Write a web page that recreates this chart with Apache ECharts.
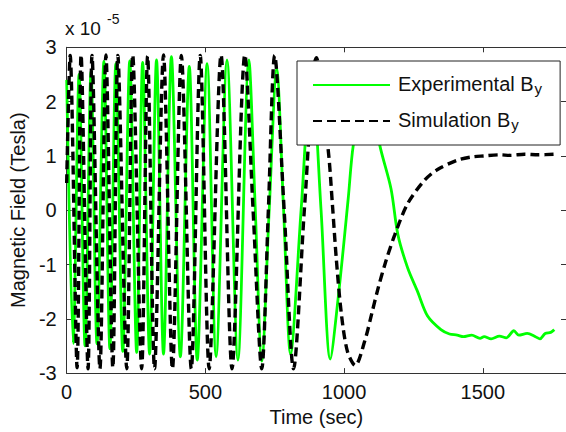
<!DOCTYPE html>
<html>
<head>
<meta charset="utf-8">
<script src="https://cdn.jsdelivr.net/npm/echarts@6/dist/echarts.min.js"></script>
<style>
html,body{margin:0;padding:0;background:#fff;}
#c{width:566px;height:432px;}
</style>
</head>
<body>
<div id="c"></div>
<script>
// ---- data (field in units of 1e-5 Tesla, time in sec) ----
const xTickValues = [0, 500, 1000, 1500];
const yTickValues = [-3, -2, -1, 0, 1, 2, 3];

const simTime = [0, 12.5, 37.6, 51.9, 77.0, 91.3, 119.9, 141.4, 166.4, 184.3, 216.5, 238.0, 270.2, 291.7, 316.7,
  349.0, 381.2, 413.4, 449.2, 481.4, 513.6, 556.5, 596.0, 642.4, 672, 703.3, 727, 749.8, 784, 817.8, 858, 900.1,
  943, 958, 972, 990, 1012, 1040, 1075, 1100, 1122, 1150, 1183, 1229, 1290, 1337, 1408, 1460, 1505, 1560, 1600,
  1650, 1700, 1758];
const simField = [0.5, 2.85, -2.9, 2.86, -2.92, 2.85, -2.92, 2.86, -2.9, 2.85, -2.92, 2.86, -2.92, 2.84, -2.92,
  2.86, -2.92, 2.85, -2.92, 2.85, -2.92, 2.86, -2.92, 2.86, 0, -2.92, 0, 2.85, 0, -2.92, 0.1, 2.81,
  1.1, 0.1, -0.9, -1.9, -2.6, -2.86, -2.4, -1.9, -1.45, -0.95, -0.45, 0.12, 0.55, 0.75, 0.92, 0.98, 1.0, 1.02, 1.01,
  1.03, 1.02, 1.03];

const expTime = [0, 23.3, 44.7, 66.2, 87.7, 109.2, 134.2, 155.7, 177.2, 202.2, 227.3, 252.3, 273.8, 298.9, 323.9,
  349.0, 377.6, 409.8, 442.0, 470.7, 506.4, 538.7, 578.0, 617.4, 656.7, 680, 703.3, 730, 757.0, 782, 807.1, 845,
  882.3, 917, 950.3, 979, 1015, 1033, 1081, 1129, 1169, 1194, 1229, 1265, 1301, 1349, 1380, 1408, 1430, 1460,
  1490, 1505, 1530, 1560, 1585, 1612, 1630, 1660, 1690, 1706, 1725, 1745, 1758];
const expField = [2.4, -2.45, 2.5, -2.5, 2.55, -2.46, 2.74, -2.55, 2.7, -2.6, 2.75, -2.62, 2.72, -2.65, 2.77,
  -2.65, 2.83, -2.7, 2.65, -2.76, 2.7, -2.7, 2.77, -2.76, 2.77, 0, -2.78, 0, 2.6, 0, -2.65, 0,
  2.6, 0, -2.74, -1.6, 0.22, 1.19, 2.5, 1.19, 0.4, -0.45, -1.06, -1.5, -1.95, -2.2, -2.28, -2.3, -2.33, -2.3,
  -2.36, -2.33, -2.37, -2.32, -2.35, -2.22, -2.3, -2.27, -2.33, -2.37, -2.27, -2.25, -2.2];

const seriesNames = ['Experimental B_y', 'Simulation B_y'];
const legendMain = ['Experimental B', 'Simulation B'];
const legendSub = ['y', 'y'];

// ---- chart ----
const FONT = "'Liberation Sans', Arial, Helvetica, sans-serif";
const AX = '#333';
const TXT = '#111';
const zip = (a, b) => a.map((v, i) => [v, b[i]]);

const chart = echarts.init(document.getElementById('c'), null, {renderer: 'svg'});

function xAx(pos, showLabel) {
  return {
    type: 'value', position: pos, min: 0, max: 1800, interval: 500,
    axisLine: {show: true, onZero: false, lineStyle: {color: AX, width: 1}},
    axisTick: {show: true, inside: true, length: 5, lineStyle: {color: AX}},
    axisLabel: {show: showLabel, margin: 9, fontSize: 20, color: TXT, fontFamily: FONT, showMaxLabel: false,
      formatter: v => xTickValues.indexOf(v) >= 0 ? String(v) : ''},
    splitLine: {show: false}
  };
}
function yAx(pos, showLabel) {
  return {
    type: 'value', position: pos, min: yTickValues[0], max: yTickValues[yTickValues.length - 1], interval: 1,
    axisLine: {show: true, onZero: false, lineStyle: {color: AX, width: 1}},
    axisTick: {show: true, inside: true, length: 5, lineStyle: {color: AX}},
    axisLabel: {show: showLabel, margin: 10, fontSize: 20, color: TXT, fontFamily: FONT},
    splitLine: {show: false}
  };
}

const xBottom = Object.assign(xAx('bottom', true), {
  name: 'Time (sec)', nameLocation: 'middle', nameGap: 33,
  nameTextStyle: {fontSize: 20, color: TXT, fontFamily: FONT}
});
const yLeft = Object.assign(yAx('left', true), {
  name: 'Magnetic Field (Tesla)', nameLocation: 'middle', nameGap: 33, nameRotate: 90,
  nameTextStyle: {fontSize: 20, color: TXT, fontFamily: FONT}
});

const option = {
  animation: false,
  backgroundColor: '#fff',
  grid: {left: 66.5, top: 47.3, width: 503, height: 328.3, containLabel: false},
  xAxis: [xBottom, xAx('top', false)],
  yAxis: [yLeft, yAx('right', false)],
  legend: {
    orient: 'vertical', left: 297, top: 61,
    itemWidth: 77, itemHeight: 14, itemGap: 9,
    padding: [8, 18, 13, 15],
    backgroundColor: '#fff', borderColor: '#222', borderWidth: 1, borderRadius: 0,
    itemStyle: {opacity: 0},
    data: seriesNames,
    formatter: name => {
      const i = seriesNames.indexOf(name);
      return '{t|' + legendMain[i] + '}{s|' + legendSub[i] + '}';
    },
    textStyle: {
      rich: {
        t: {fontSize: 20, lineHeight: 22, verticalAlign: 'top', padding: [0, 0, 0, 3], color: TXT, fontFamily: FONT},
        s: {fontSize: 15, lineHeight: 16, verticalAlign: 'bottom', padding: [12, 0, 0, 1], color: TXT, fontFamily: FONT}
      }
    }
  },
  graphic: [
    {type: 'text', x: 65, y: 28.5, style: {text: 'x 10', fill: TXT, font: "19px 'Liberation Sans', Arial, sans-serif",
      textAlign: 'left', textVerticalAlign: 'middle', align: 'left', verticalAlign: 'middle'}},
    {type: 'text', x: 107, y: 19, style: {text: '-5', fill: TXT, font: "14px 'Liberation Sans', Arial, sans-serif",
      textAlign: 'left', textVerticalAlign: 'middle', align: 'left', verticalAlign: 'middle'}}
  ],
  series: [
    {
      name: seriesNames[0], type: 'line', data: zip(expTime, expField),
      symbol: 'none', showSymbol: false, smooth: 0.3, z: 2,
      lineStyle: {color: '#00ff00', width: 2.8}, itemStyle: {color: '#00ff00'}
    },
    {
      name: seriesNames[1], type: 'line', data: zip(simTime, simField),
      symbol: 'none', showSymbol: false, smooth: 0.3, z: 3,
      lineStyle: {color: '#000000', width: 3.4, type: [9, 5]}, itemStyle: {color: '#000000'}
    }
  ]
};
chart.setOption(option);
</script>
</body>
</html>
